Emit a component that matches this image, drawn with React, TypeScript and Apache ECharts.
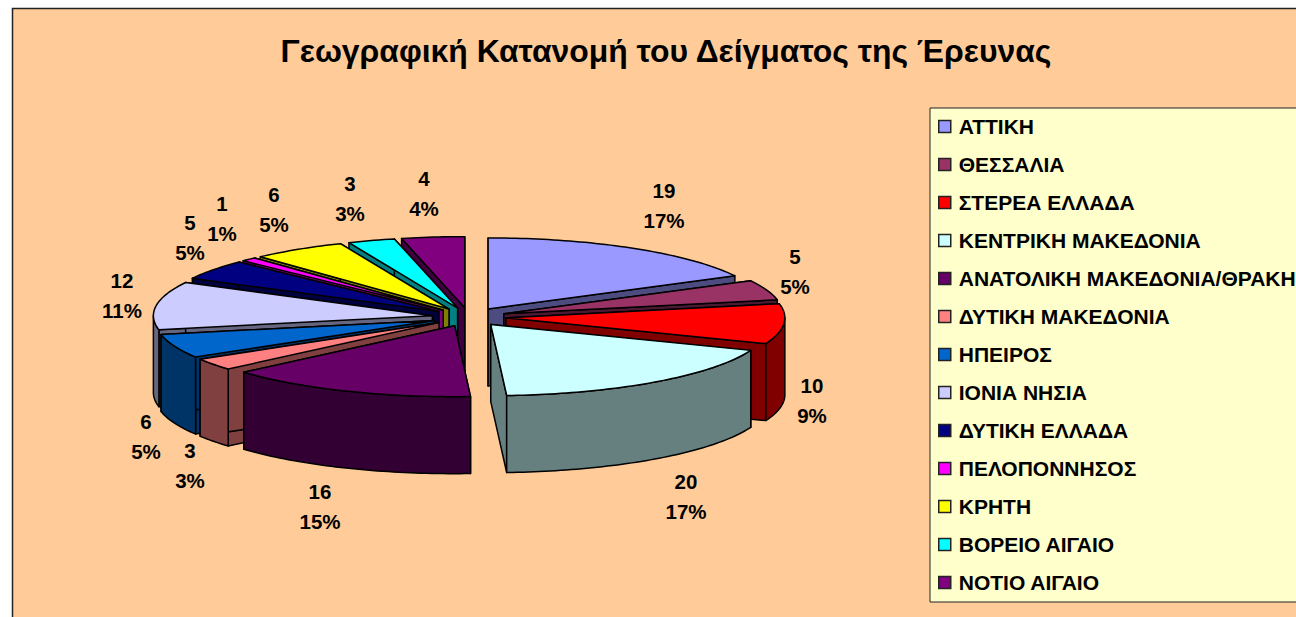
import React, { useEffect, useRef } from "react";
import * as echarts from "echarts";

const regions = ["ΑΤΤΙΚΗ", "ΘΕΣΣΑΛΙΑ", "ΣΤΕΡΕΑ ΕΛΛΑΔΑ", "ΚΕΝΤΡΙΚΗ ΜΑΚΕΔΟΝΙΑ", "ΑΝΑΤΟΛΙΚΗ ΜΑΚΕΔΟΝΙΑ/ΘΡΑΚΗ", "ΔΥΤΙΚΗ ΜΑΚΕΔΟΝΙΑ", "ΗΠΕΙΡΟΣ", "ΙΟΝΙΑ ΝΗΣΙΑ", "ΔΥΤΙΚΗ ΕΛΛΑΔΑ", "ΠΕΛΟΠΟΝΝΗΣΟΣ", "ΚΡΗΤΗ", "ΒΟΡΕΙΟ ΑΙΓΑΙΟ", "ΝΟΤΙΟ ΑΙΓΑΙΟ"];
const counts = [19, 5, 10, 20, 16, 3, 6, 12, 5, 1, 6, 3, 4];
const percents = ["17%", "5%", "9%", "17%", "15%", "3%", "5%", "11%", "5%", "1%", "5%", "3%", "4%"];
const colors = ["#9999FF", "#993366", "#FF0000", "#CCFFFF", "#660066", "#FF8080", "#0066CC", "#CCCCFF", "#000080", "#FF00FF", "#FFFF00", "#00FFFF", "#800080"];
const wallColors = ["#4C4C80", "#4C1933", "#800000", "#668080", "#330033", "#804040", "#003366", "#666680", "#000040", "#800080", "#808000", "#008080", "#400040"];
const labelCenters = [[664, 205], [795, 271], [812, 400], [686, 496], [320, 506], [190, 465], [146, 436], [122, 295], [190, 237], [222, 218], [274, 209], [350, 198], [424, 193]];

const FONT = '"Liberation Sans", Arial, sans-serif';
const CX = 469, CY = 317, RX = 279, RY = 71, EXPLODE = 37, DEPTH = 77;
const total = counts.reduce((a, b) => a + b, 0);
const starts: number[] = [];
counts.reduce((acc, v, i) => { starts[i] = acc; return acc + v; }, 0);
const toAngle = (v: number) => (v / total) * Math.PI * 2;

function arcPoints(ax: number, ay: number, a0: number, a1: number, dy = 0) {
  const pts: number[][] = [];
  const n = Math.max(2, Math.ceil((a1 - a0) / 0.02));
  for (let k = 0; k <= n; k++) {
    const t = a0 + ((a1 - a0) * k) / n;
    pts.push([ax + RX * Math.sin(t), ay - RY * Math.cos(t) + dy]);
  }
  return pts;
}

function makeRenderItem(i: number) {
  return (_params: any, api: any) => {
    const value = api.value(0);
    const a0 = toAngle(starts[i]);
    const a1 = a0 + toAngle(value);
    const mid = (a0 + a1) / 2;
    const ax = CX + EXPLODE * Math.sin(mid);
    const ay = CY - (EXPLODE * RY * Math.cos(mid)) / RX;
    const wall = { fill: wallColors[i], stroke: "#000", lineWidth: 1.5, lineJoin: "round" };
    const face = (a: number) => {
      const rx = ax + RX * Math.sin(a);
      const ry = ay - RY * Math.cos(a);
      return { type: "polygon", shape: { points: [[ax, ay], [rx, ry], [rx, ry + DEPTH], [ax, ay + DEPTH]] }, style: wall };
    };
    const children: any[] = [face(a0), face(a1)];
    const w0 = Math.max(a0, Math.PI / 2);
    const w1 = Math.min(a1, (Math.PI * 3) / 2);
    if (w1 > w0) {
      const upper = arcPoints(ax, ay, w0, w1);
      const lower = arcPoints(ax, ay, w0, w1, DEPTH).reverse();
      children.push({ type: "polygon", shape: { points: upper.concat(lower) }, style: wall });
    }
    children.push({
      type: "polygon",
      shape: { points: [[ax, ay], ...arcPoints(ax, ay, a0, a1)] },
      style: { fill: colors[i], stroke: "#000", lineWidth: 1.5, lineJoin: "round" },
    });
    children.push({
      type: "text",
      style: {
        text: `${value}\n${percents[i]}`,
        x: labelCenters[i][0],
        y: labelCenters[i][1],
        align: "center",
        verticalAlign: "middle",
        fill: "#000",
        font: `bold 20.5px ${FONT}`,
        lineHeight: 30,
      },
    });
    return { type: "group", children };
  };
}

export default function App() {
  const ref = useRef<HTMLDivElement>(null);
  useEffect(() => {
    const chart = echarts.init(ref.current!, null, { renderer: "svg" });
    const depthRank = counts
      .map((_, i) => i)
      .sort((p, q) => {
        const m = (j: number) => toAngle(starts[j] + counts[j] / 2);
        return Math.cos(m(q)) - Math.cos(m(p));
      });
    chart.setOption({
      animation: false,
      backgroundColor: "#fff",
      title: {
        text: "Γεωγραφική Κατανομή του Δείγματος της Έρευνας",
        left: 661,
        top: 30,
        textAlign: "center",
        textStyle: { fontFamily: FONT, fontWeight: "bold", fontSize: 31.9, color: "#000" },
      },
      graphic: [
        {
          type: "rect",
          z: -10,
          silent: true,
          shape: { x: 12.5, y: 8.5, width: 1500, height: 800 },
          style: { fill: "#FFCC99", stroke: "#222", lineWidth: 1.5 },
        },
      ],
      legend: {
        orient: "vertical",
        left: 930,
        top: 108,
        z: 50,
        icon: "rect",
        itemWidth: 12,
        itemHeight: 12,
        itemGap: 17,
        padding: [8, 120, 9, 8],
        backgroundColor: "#FFFFCC",
        borderColor: "#222",
        borderWidth: 1,
        selectedMode: false,
        align: "left",
        textStyle: { fontFamily: FONT, fontWeight: "bold", fontSize: 21, color: "#000", padding: [0, 0, 0, 3] },
        itemStyle: { borderColor: "#222", borderWidth: 1.5 },
        data: regions,
      },
      series: regions.map((name, i) => ({
        type: "custom",
        name,
        coordinateSystem: "none",
        z: 5 + depthRank.indexOf(i),
        itemStyle: { color: colors[i], borderColor: "#222", borderWidth: 1.5 },
        data: [[counts[i]]],
        renderItem: makeRenderItem(i),
      })),
    });
    return () => chart.dispose();
  }, []);
  return <div ref={ref} style={{ position: "absolute", left: 0, top: 0, width: 1296, height: 617, overflow: "hidden" }} />;
}
